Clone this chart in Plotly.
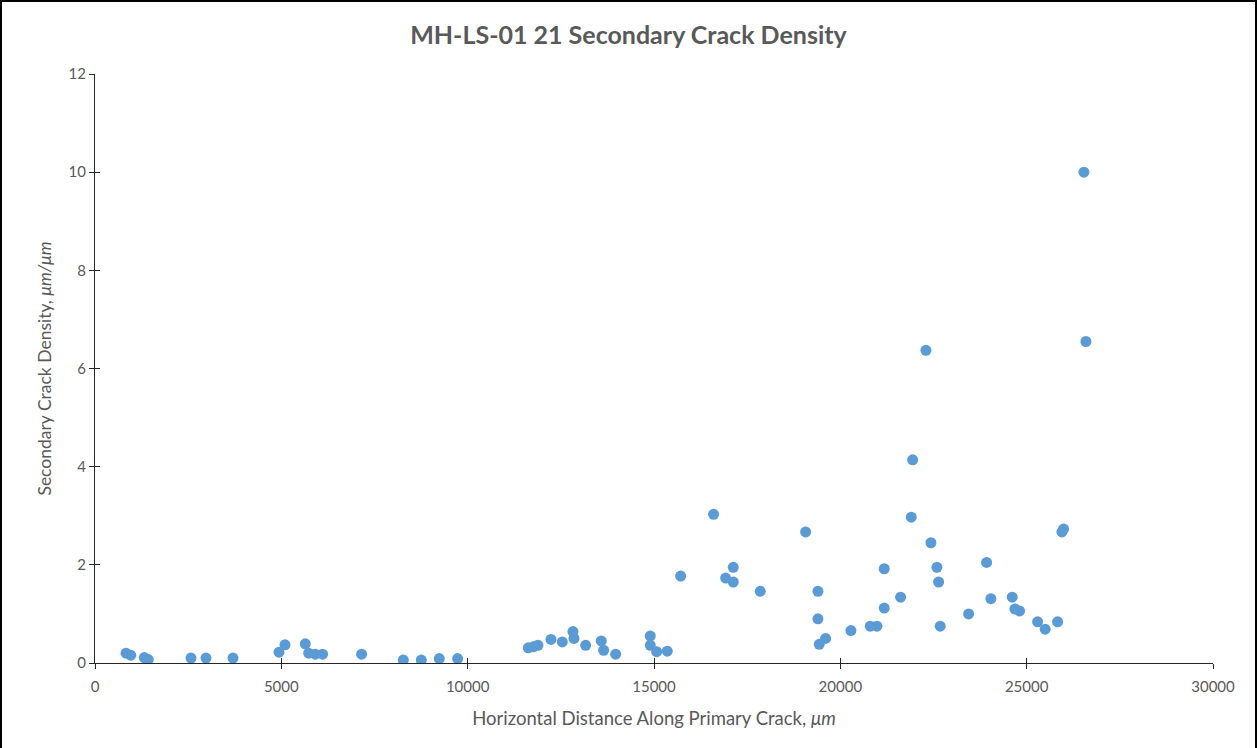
import plotly.graph_objects as go

distance_um = [832, 958, 1323, 1430, 2576, 2978, 3703, 4937, 5098, 5643, 5733, 5911, 6108,
               7153, 8273, 8756, 9238, 9731,
               11627, 11761, 11886, 12235, 12539, 12826, 12853, 13166, 13585, 13649, 13971,
               14900, 14900, 15071, 15356,
               15715, 16599, 16922, 17127, 17127, 17851,
               19069, 19399, 19399, 19434, 19605, 20284, 20803, 20982, 21178, 21178, 21617,
               21903, 21940, 22297, 22431, 22592, 22637, 22680, 23442, 23925, 24040,
               24612, 24685, 24810, 25293, 25497, 25830, 25945, 25991, 26536, 26590]
density = [0.20, 0.16, 0.11, 0.07, 0.10, 0.10, 0.10, 0.22, 0.37, 0.39, 0.20, 0.18, 0.18,
           0.18, 0.06, 0.06, 0.09, 0.09,
           0.31, 0.33, 0.36, 0.48, 0.43, 0.64, 0.50, 0.36, 0.45, 0.26, 0.18,
           0.55, 0.36, 0.23, 0.24,
           1.77, 3.03, 1.73, 1.95, 1.65, 1.46,
           2.67, 1.46, 0.90, 0.38, 0.50, 0.66, 0.75, 0.75, 1.92, 1.12, 1.34,
           2.97, 4.14, 6.37, 2.45, 1.95, 1.65, 0.75, 1.00, 2.05, 1.31,
           1.34, 1.10, 1.06, 0.84, 0.69, 0.84, 2.67, 2.73, 10.0, 6.55]

x_ticks = [0, 5000, 10000, 15000, 20000, 25000, 30000]
y_ticks = [0, 2, 4, 6, 8, 10, 12]

gray = "#595959"
font = "Lato"

fig = go.Figure()
fig.add_trace(go.Scatter(
    x=distance_um, y=density, mode="markers",
    marker=dict(color="#5B9BD5", size=11, line=dict(width=0)),
    showlegend=False, hoverinfo="x+y"))

axis_common = dict(showgrid=False, zeroline=False, showline=True, linecolor="#262626",
                   linewidth=1, ticks="outside", ticklen=5, tickcolor="#262626", tickwidth=1)

fig.update_layout(
    width=1257, height=748,
    margin=dict(l=95, r=44, t=74, b=85),
    paper_bgcolor="white", plot_bgcolor="white",
    title=dict(text="<b>MH-LS-01 21 Secondary Crack Density</b>", x=0.5, xanchor="center",
               y=0.953, yanchor="middle",
               font=dict(family=font, size=25, color=gray)),
    xaxis=dict(range=[0, 30000], tickvals=x_ticks, ticktext=[str(v) for v in x_ticks],
               tickfont=dict(family=font, size=15, color=gray), ticklabelstandoff=5,
               title=dict(text="Horizontal Distance Along Primary Crack, <i>μm</i>",
                          font=dict(family=font, size=18.5, color=gray), standoff=18),
               **axis_common),
    yaxis=dict(range=[0, 12], tickvals=y_ticks, ticktext=[str(v) for v in y_ticks],
               tickfont=dict(family=font, size=15, color=gray),
               title=dict(text="Secondary Crack Density, <i>μm/μm</i>",
                          font=dict(family=font, size=17.5, color=gray), standoff=12),
               **axis_common),
    xaxis2=dict(range=[0, 30000], tickvals=x_ticks, overlaying="x", matches="x",
                showticklabels=False, showgrid=False, zeroline=False, showline=False,
                ticks="inside", ticklen=5, tickcolor="#262626", side="bottom"),
    yaxis2=dict(range=[0, 12], tickvals=y_ticks, overlaying="y", matches="y",
                showticklabels=False, showgrid=False, zeroline=False, showline=False,
                ticks="inside", ticklen=5, tickcolor="#262626", side="left"),
    shapes=[dict(type="rect", xref="paper", yref="paper",
                 x0=(1 - 95) / 1118, x1=(1256 - 95) / 1118,
                 y0=(663 - 749) / 589, y1=(663 - 1) / 589,
                 line=dict(color="black", width=2), fillcolor="rgba(0,0,0,0)", layer="below")],
)

fig.add_trace(go.Scatter(x=[None], y=[None], xaxis="x2", yaxis="y2", showlegend=False,
                         hoverinfo="skip"))

fig.write_html("out.html", config={"displayModeBar": False},
               post_script="document.body.style.margin='0px';document.body.style.overflow='hidden';")
